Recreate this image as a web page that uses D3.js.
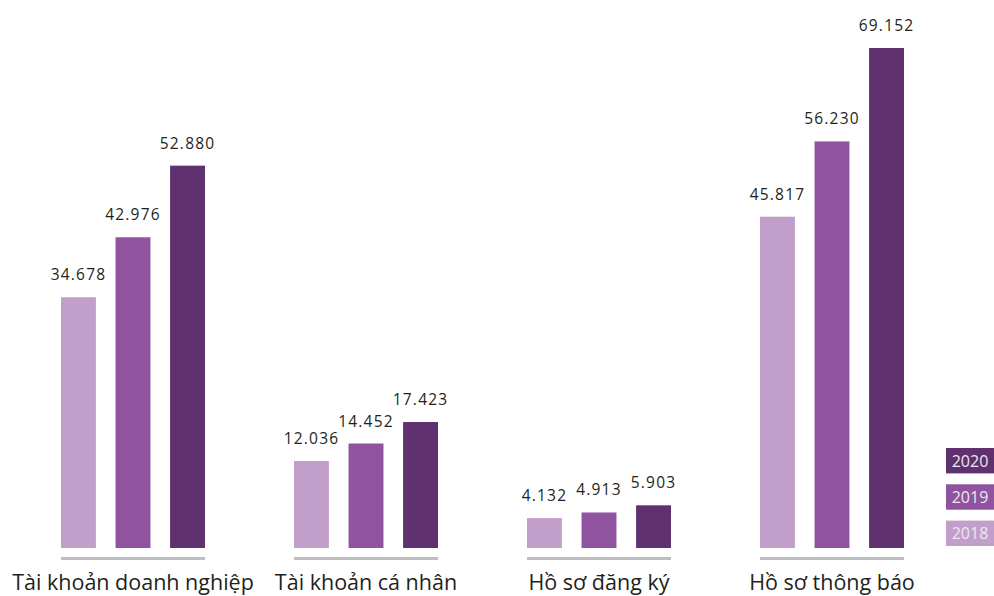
<!DOCTYPE html>
<html>
<head>
<meta charset="utf-8">
<script src="https://cdn.jsdelivr.net/npm/d3@7"></script>
<style>
  html, body { margin: 0; padding: 0; background: #ffffff; }
  svg { display: block; font-family: "Open Sans", "Noto Sans", sans-serif; }
</style>
</head>
<body>
<svg id="chart" width="994" height="596"></svg>
<script>
const categories = ["Tài khoản doanh nghiệp", "Tài khoản cá nhân", "Hồ sơ đăng ký", "Hồ sơ thông báo"];
const years = ["2018", "2019", "2020"];
const values2018 = [34678, 12036, 4132, 45817];
const values2019 = [42976, 14452, 4913, 56230];
const values2020 = [52880, 17423, 5903, 69152];
const valueLabels2018 = ["34.678", "12.036", "4.132", "45.817"];
const valueLabels2019 = ["42.976", "14.452", "4.913", "56.230"];
const valueLabels2020 = ["52.880", "17.423", "5.903", "69.152"];
const colors = ["#c19fca", "#8f539f", "#5f316e"];

const series = [values2018, values2019, values2020];
const seriesLabels = [valueLabels2018, valueLabels2019, valueLabels2020];

const svg = d3.select("#chart");

const x0 = d3.scaleBand().domain(categories).range([61, 904]).paddingInner(0.382).paddingOuter(0);
const x1 = d3.scaleBand().domain(years).range([0, x0.bandwidth()]).paddingInner(0.36).paddingOuter(0);
const y = d3.scaleLinear().domain([0, 69152]).range([548, 48]);
const color = d3.scaleOrdinal().domain(years).range(colors);

const rows = categories.map((c, i) => ({
  cat: c,
  bars: years.map((yr, j) => ({ year: yr, value: series[j][i], label: seriesLabels[j][i] }))
}));

const g = svg.selectAll("g.group").data(rows).join("g")
  .attr("class", "group")
  .attr("transform", d => `translate(${x0(d.cat)},0)`);

g.selectAll("rect.bar").data(d => d.bars).join("rect")
  .attr("class", "bar")
  .attr("x", d => x1(d.year))
  .attr("width", x1.bandwidth())
  .attr("y", d => y(d.value))
  .attr("height", d => y(0) - y(d.value))
  .attr("fill", d => color(d.year));

g.selectAll("text.val").data(d => d.bars).join("text")
  .attr("class", "val")
  .attr("x", d => x1(d.year) + x1.bandwidth() / 2)
  .attr("y", d => y(d.value) - 17)
  .attr("text-anchor", "middle")
  .attr("font-size", 15.5)
  .attr("letter-spacing", 1.2)
  .attr("fill", "#231f20")
  .text(d => d.label);

// gray baseline under each group
g.append("rect")
  .attr("x", 0)
  .attr("width", x0.bandwidth())
  .attr("y", y(0) + 9)
  .attr("height", 3)
  .attr("fill", "#bcbec0");

// category labels
g.append("text")
  .attr("x", x0.bandwidth() / 2)
  .attr("y", 590)
  .attr("text-anchor", "middle")
  .attr("font-size", 21.5)
  .attr("fill", "#231f20")
  .text(d => d.cat);

// legend
const legendYears = years.slice().reverse();
const ly = d3.scaleBand().domain(legendYears).range([448, 546]).paddingInner(0.3).paddingOuter(0);
const legend = svg.append("g").selectAll("g").data(legendYears).join("g")
  .attr("transform", d => `translate(946,${ly(d)})`);
legend.append("rect")
  .attr("width", 48)
  .attr("height", ly.bandwidth())
  .attr("fill", d => color(d));
legend.append("text")
  .attr("x", 24)
  .attr("y", ly.bandwidth() / 2 + 6)
  .attr("text-anchor", "middle")
  .attr("font-size", 16)
  .attr("fill", "#efe6f1")
  .text(d => d);
</script>
</body>
</html>
